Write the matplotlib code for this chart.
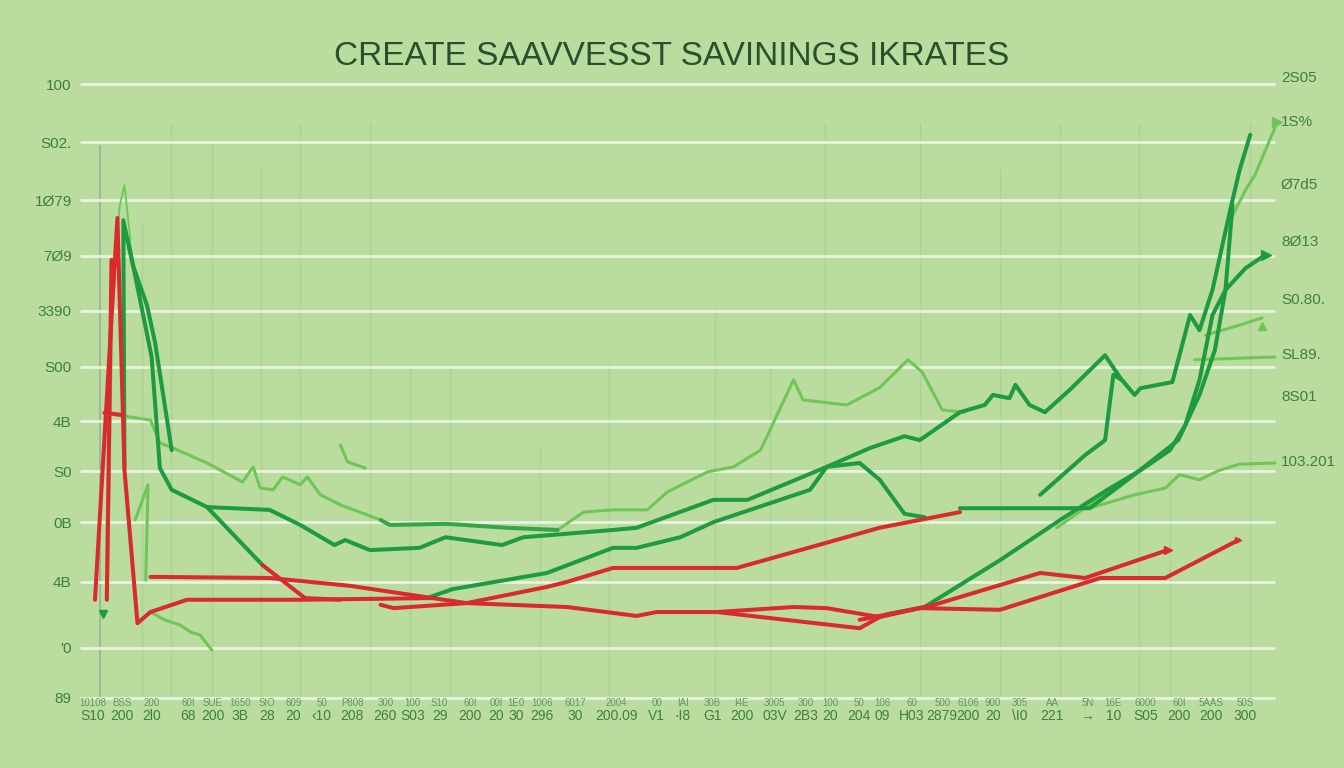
import numpy as np
import matplotlib.pyplot as plt
import matplotlib.transforms as mtransforms

# ---- values ----
grid_y = [0, 9, 20.8, 31.5, 40.6, 49.6, 59.3, 69.4, 79.2, 89.2, 99.6, 110]
left_labels = ["89", "'0", "4B", "0B", "S0", "4B", "S00", "3390", "7Ø9", "1Ø79", "S02.", "100"]

right_y = [111.1, 103.2, 91.9, 81.7, 71.3, 61.5, 53.9, 42.3]
right_labels = ["2S05", "1S%", "Ø7d5", "8Ø13", "S0.80.", "SL89.", "8S01", "103.201"]

bottom_x = [-0.2, 2.3, 4.8, 7.9, 10.0, 12.3, 14.6, 16.8, 19.2, 21.8, 24.6, 26.9, 29.2, 31.8,
            34.0, 35.7, 37.9, 40.7, 44.2, 47.6, 49.8, 52.3, 54.8, 57.6, 60.2, 62.3, 64.7, 66.7,
            69.2, 71.8, 74.0, 76.1, 78.4, 81.1, 84.1, 86.3, 89.0, 91.9, 94.6, 97.5]
bottom_big = ["S10", "200", "2l0", "68", "200", "3B", "28", "20", "‹10", "208", "260", "S03",
              "29", "200", "20", "30", "296", "30", "200.09", "V1", "·I8", "G1", "200", "03V",
              "2B3", "20", "204", "09", "H03", "2879", "200", "20", "\\I0", "221", "→", "10",
              "S05", "200", "200", "300"]
bottom_small = ["10108", "BSS", "200", "60I", "SUE", "1650", "SIO", "609", "50", "P808", "300",
                "100", "S10", "60I", "00I", "1E0", "1006", "6017", "2004", "00", "IAI", "30B",
                "I4E", "3005", "300", "100", "50", "106", "60", "500", "6106", "900", "305", "AA",
                "5N", "16E", "6000", "60I", "5AAS", "50S"]

vline_x = [0.4, 4.0, 6.4, 9.9, 14.1, 17.4, 23.3, 26.7, 30.1, 37.7, 43.6, 52.5, 57.2, 61.9,
           69.9, 76.7, 81.8, 88.5, 91.1, 97.9]
vline_top = [99, 85, 103, 100, 95, 103, 103, 60, 60, 45, 60, 70, 60, 103, 103, 95, 103, 103, 40, 103]

# red series
red_a_x = [0, 1.9, 2.5, 3.6, 4.7, 7.8, 17.4, 28.6, 31.5, 40.0, 45.9, 47.6, 52.7, 59.2, 62.0, 66.5]
red_a_y = [17.6, 86.0, 40.8, 13.4, 15.4, 17.6, 17.6, 17.9, 17.0, 16.3, 14.7, 15.4, 15.4, 16.3, 16.1, 14.5]
red_b_x = [1.0, 1.4]
red_b_y = [17.6, 78.5]
red_stub_x = [0.8, 2.3]
red_stub_y = [51.1, 50.7]
red_c_x = [4.7, 14.8, 21.6, 28.6]
red_c_y = [21.7, 21.5, 20.1, 17.9]
red_d_x = [14.2, 17.8, 20.8]
red_d_y = [23.8, 17.9, 17.6]
red_e_x = [24.2, 25.3, 31.5, 38.3, 40.0, 43.9, 54.4, 66.5, 73.3]
red_e_y = [16.7, 16.1, 17.0, 19.9, 20.8, 23.3, 23.3, 30.5, 33.3]
red_f_x = [52.7, 64.8, 66.5, 69.9, 76.7, 85.2, 90.7, 96.9]
red_f_y = [15.4, 12.5, 14.5, 16.1, 15.8, 21.5, 21.5, 28.3]
red_g_x = [64.8, 70.8, 80.1, 83.9, 90.9]
red_g_y = [14.0, 16.5, 22.4, 21.5, 26.5]

# dark green series
g_spike_x = [2.5, 2.4, 3.2, 4.4, 5.1, 6.5]
g_spike_y = [41.4, 85.6, 77.6, 70.4, 63.6, 44.4]
g_main_x = [2.8, 4.8, 5.5, 6.5, 9.5, 14.8, 17.4, 20.3, 21.2, 23.3, 27.5, 29.7, 34.5, 36.3, 43.9,
            45.9, 52.4, 55.3, 62.0, 65.7, 68.6, 69.9, 73.3, 75.4, 76.1, 77.5, 78.0, 79.2, 80.5,
            82.6, 85.6, 86.9, 88.1, 88.6, 91.3, 92.8, 93.6, 94.7, 96.2, 97.0, 97.9]
g_main_y = [82.0, 61.1, 41.2, 37.3, 34.2, 33.7, 31.0, 27.4, 28.3, 26.5, 26.9, 28.8, 27.4, 28.8, 30.1,
            30.5, 35.5, 35.5, 41.4, 44.8, 46.9, 46.2, 51.2, 52.5, 54.3, 53.7, 56.1, 52.5, 51.2,
            55.2, 61.4, 57.3, 54.3, 55.5, 56.6, 68.6, 65.9, 73.1, 87.4, 94.6, 100.9]
g_drop_x = [9.5, 14.2]
g_drop_y = [34.2, 23.8]
g_rise_x = [28.4, 30.3, 38.3, 43.9, 45.9, 49.6, 52.4, 60.6, 62.0, 64.8, 66.5, 68.6, 70.3]
g_rise_y = [18.1, 19.5, 22.4, 26.9, 26.9, 28.8, 31.5, 37.3, 41.4, 42.1, 39.1, 33.0, 32.4]
g_flat_x = [73.3, 84.3, 87.7, 91.8, 93.6, 94.9, 95.8, 96.4]
g_flat_y = [34.0, 34.0, 39.4, 46.2, 54.3, 62.3, 73.1, 88.3]
g_low_x = [66.9, 70.3, 76.7, 81.8, 85.8, 88.6, 91.1, 92.4, 93.6, 94.7, 95.8, 97.5, 99.2]
g_low_y = [14.9, 16.3, 24.7, 31.9, 37.3, 40.8, 44.4, 48.9, 57.0, 68.6, 73.1, 77.0, 79.4]
g_kink_x = [80.1, 83.9, 85.6, 86.3, 87.0]
g_kink_y = [36.4, 43.5, 46.2, 57.9, 57.0]

# mid / light green series
g_mid_x = [24.2, 25.0, 29.8, 34.9, 39.2]
g_mid_y = [31.9, 31.0, 31.2, 30.5, 30.1]
lt_a_x = [1.9, 4.7, 5.5, 6.6, 9.5, 12.5, 13.4, 14.0, 15.1, 15.9, 17.4, 18.0, 19.1, 20.8, 24.2]
lt_a_y = [50.7, 49.8, 45.7, 44.8, 42.1, 38.7, 41.4, 37.6, 37.3, 39.6, 38.2, 39.6, 36.4, 34.6, 31.9]
lt_b_x = [39.2, 41.4, 43.8, 46.8, 48.5, 51.9, 54.1, 56.4, 59.2, 60.0, 63.7, 66.5, 68.9, 70.1, 71.8, 73.7]
lt_b_y = [30.1, 33.3, 33.7, 33.7, 36.9, 40.5, 41.4, 44.4, 57.0, 53.4, 52.5, 55.6, 60.6, 58.4, 51.6, 51.2]
lt_sq_x = [20.8, 21.4, 22.9]
lt_sq_y = [45.3, 42.3, 41.2]
lt_spike_x = [1.1, 1.5, 2.1, 2.5, 3.0]
lt_spike_y = [17.6, 73.1, 88.3, 91.9, 82.0]
lt_bot_x = [4.7, 5.9, 7.2, 8.1, 8.9, 9.9]
lt_bot_y = [15.4, 14.0, 13.1, 11.8, 11.3, 8.6]
lt_tick_x = [3.4, 4.5, 4.3]
lt_tick_y = [31.9, 38.2, 21.1]
lt_top_x = [96.2, 97.5, 98.3, 100.2]
lt_top_y = [85.6, 91.0, 93.7, 103.2]
lt_mid_x = [94.1, 97.0, 98.9]
lt_mid_y = [65.0, 66.8, 68.1]
lt_flat_x = [93.2, 100.0]
lt_flat_y = [60.6, 61.1]
lt_low_x = [81.8, 84.3, 88.1, 90.7, 91.9, 93.6, 95.3, 97.0, 100.0]
lt_low_y = [34.0, 34.0, 36.4, 37.6, 40.0, 39.1, 40.8, 41.9, 42.1]
lt_diag_x = [81.5, 90.9]
lt_diag_y = [30.5, 44.4]

BG = '#badc9f'
RED = '#d92b2d'
DARK = '#1e9a40'
MID = '#34a647'
LIGHT = '#6fc656'
TXT = '#3f7f3f'
FONT = ['Liberation Sans', 'DejaVu Sans']

fig = plt.figure(figsize=(13.44, 7.68), dpi=100)
fig.patch.set_facecolor(BG)
ax = fig.add_axes([80 / 1344, 46 / 768, 1210 / 1344, 662 / 768])
ax.set_facecolor(BG)
ax.set_xlim(-1.27, 101.27)
ax.set_ylim(-4.3, 114.3)
for s in ax.spines.values():
    s.set_visible(False)

# faint vertical strokes
for vx, vt in zip(vline_x, vline_top):
    ax.vlines(vx, 0, vt, color='#a8cf90', lw=1.0, alpha=0.8, zorder=1)
ax.vlines(vline_x[0], 0, vline_top[0], color='#9bb89a', lw=1.3, zorder=1)

# white grid
ax.hlines(grid_y, -1.27, 100, color='#eef7e6', lw=2.0, alpha=0.9, zorder=1)

ax.set_yticks(grid_y, labels=left_labels)
ax.set_xticks([])
ax.tick_params(axis='y', length=0, pad=6, labelcolor=TXT, labelsize=11)
for lab in ax.get_yticklabels():
    lab.set_family(FONT)

for ry, rl in zip(right_y, right_labels):
    ax.text(100.5, ry, rl, color=TXT, fontsize=11, family=FONT, ha='left', va='center')

tr = mtransforms.blended_transform_factory(ax.transData, ax.transAxes)
for bx, b1, b2 in zip(bottom_x, bottom_small, bottom_big):
    ax.text(bx, 0.029, b1, color='#5e9a5e', fontsize=7, family=FONT, ha='center', va='center', transform=tr)
    ax.text(bx, 0.009, b2, color=TXT, fontsize=10, family=FONT, ha='center', va='center', transform=tr)

kw = dict(solid_capstyle='round', solid_joinstyle='round', clip_on=False)

# light lines first
for xs, ys in [(lt_a_x, lt_a_y), (lt_b_x, lt_b_y), (lt_sq_x, lt_sq_y), (lt_bot_x, lt_bot_y),
               (lt_tick_x, lt_tick_y), (lt_top_x, lt_top_y), (lt_mid_x, lt_mid_y),
               (lt_flat_x, lt_flat_y), (lt_low_x, lt_low_y), (lt_diag_x, lt_diag_y)]:
    ax.plot(xs, ys, color=LIGHT, lw=2.2, zorder=3, **kw)
ax.plot(lt_spike_x, lt_spike_y, color=LIGHT, lw=1.3, zorder=3, **kw)
ax.plot(g_mid_x, g_mid_y, color=MID, lw=2.9, zorder=3, **kw)

# dark green
for xs, ys in [(g_spike_x, g_spike_y), (g_main_x, g_main_y), (g_drop_x, g_drop_y),
               (g_rise_x, g_rise_y), (g_flat_x, g_flat_y), (g_low_x, g_low_y), (g_kink_x, g_kink_y)]:
    ax.plot(xs, ys, color=DARK, lw=2.9, zorder=4, **kw)

# red
for xs, ys in [(red_a_x, red_a_y), (red_b_x, red_b_y), (red_stub_x, red_stub_y), (red_c_x, red_c_y),
               (red_d_x, red_d_y), (red_e_x, red_e_y), (red_f_x, red_f_y), (red_g_x, red_g_y)]:
    ax.plot(xs, ys, color=RED, lw=2.9, zorder=5, **kw)

# arrow heads at line ends
ax.plot(g_low_x[-1], g_low_y[-1], marker='>', color=DARK, ms=7, zorder=6, clip_on=False)
ax.plot(lt_top_x[-1], lt_top_y[-1], marker='>', color=LIGHT, ms=7, zorder=6, clip_on=False)
ax.plot(lt_mid_x[-1], lt_mid_y[-1] - 1.5, marker='^', color=LIGHT, ms=6, zorder=6, clip_on=False)
ax.plot(red_g_x[-1], red_g_y[-1], marker='>', color=RED, ms=6, zorder=6, clip_on=False)
ax.plot(red_f_x[-1], red_f_y[-1], marker='>', color=RED, ms=5, zorder=6, clip_on=False)
ax.plot(lt_spike_x[0] - 0.4, 15.0, marker='v', color=DARK, ms=6, zorder=6, clip_on=False)

fig.text(0.5, 0.927, "CREATE SAAVVESST SAVININGS IKRATES", color='#28502c', fontsize=24,
         family=FONT, ha='center', va='center')

plt.savefig("out.png", dpi=100, facecolor=BG)
